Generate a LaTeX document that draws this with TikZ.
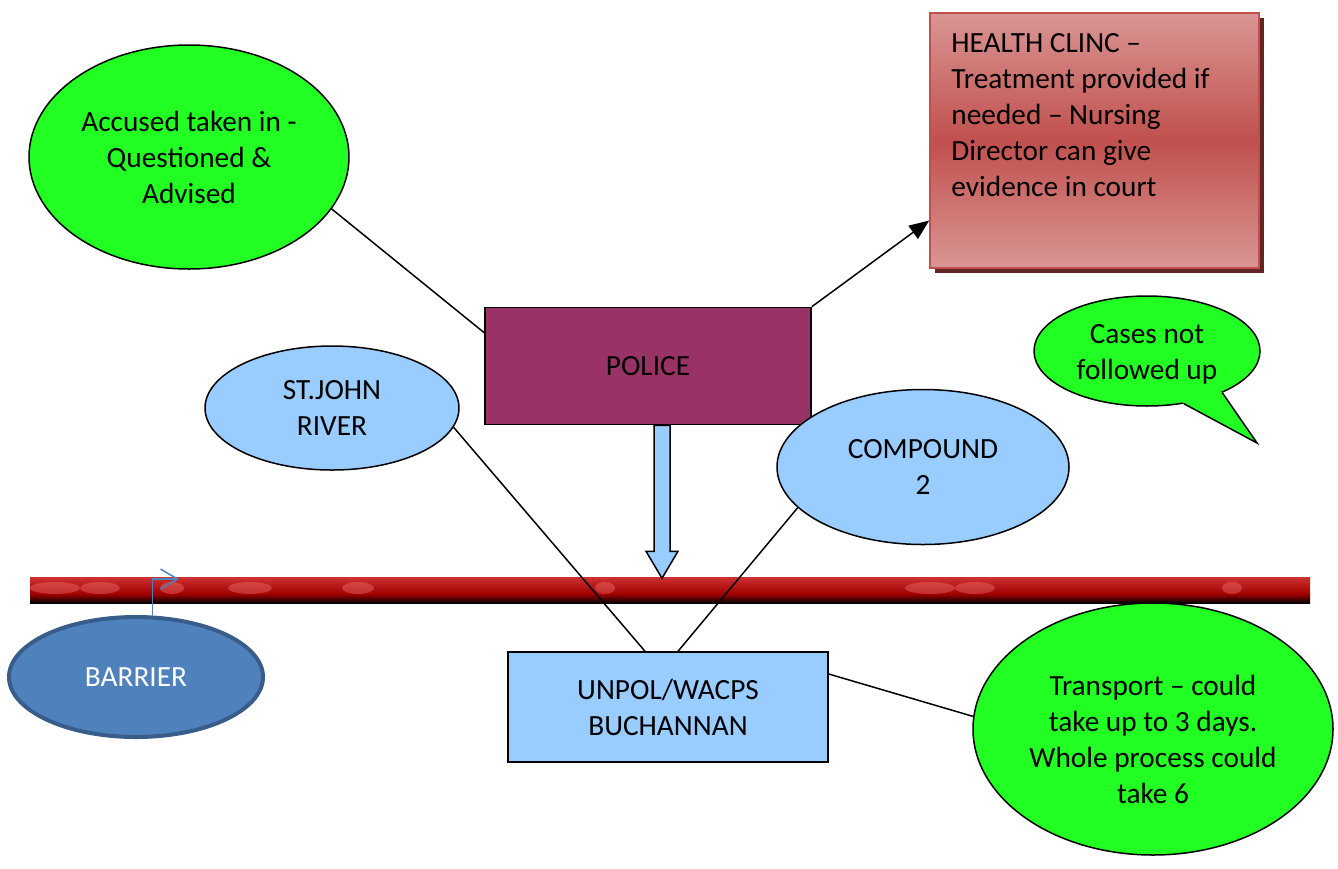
\documentclass[tikz,border=0pt]{standalone}
\usepackage{fontspec}
\setmainfont{Carlito}
\usetikzlibrary{shapes.geometric,arrows.meta,calc}
\definecolor{lgreen}{RGB}{34,255,34}
\definecolor{lblue}{RGB}{153,204,255}
\definecolor{plum}{RGB}{153,51,102}
\definecolor{hclight}{RGB}{217,150,148}
\definecolor{hcmid}{RGB}{192,80,77}
\definecolor{hcshadow}{RGB}{99,37,35}
\definecolor{barfill}{RGB}{79,129,189}
\definecolor{barline}{RGB}{56,93,138}
\definecolor{redtop}{RGB}{205,50,50}
\definecolor{reddark}{RGB}{160,0,0}
\definecolor{redspot}{RGB}{255,130,130}
\begin{document}
\begin{tikzpicture}[x=1pt,y=-1pt,
  txt/.style={font=\fontsize{29.3}{36}\selectfont, align=center},
  oval/.style={ellipse, draw=black, line width=1.5pt, inner sep=0pt, txt},
  greenoval/.style={oval, fill=lgreen},
  blueoval/.style={oval, fill=lblue},
  boxnode/.style={rectangle, draw=black, line width=1.5pt, inner sep=0pt, txt},
  conn/.style={draw=black, line width=1.5pt},
]
\useasboundingbox (0,0) rectangle (1338,868);

% red barrier bar
\shade[top color=redtop, bottom color=reddark] (30,577) rectangle (1310,594);
\shade[top color=reddark, bottom color=black] (30,594) rectangle (1310,603);
\begin{scope}
  \clip (30,577) rectangle (1310,603);
  \foreach \xa/\w in {55/25, 100/20, 172/12, 250/22, 358/16, 605/10, 930/25, 975/20, 1232/10}{
    \fill[redspot, opacity=0.35] (\xa,588) ellipse ({\w} and 6);
  }
\end{scope}

% nodes
\node[greenoval, minimum width=320pt, minimum height=224pt] (acc) at (189,157)
  {Accused taken in -\\Questioned \&\\Advised};
\node[boxnode, fill=plum, minimum width=326pt, minimum height=117pt] (police) at (648,366) {POLICE};

% health clinic
\fill[hcshadow] (935,18) rectangle (1264,273);
\node[rectangle, draw=hcmid, line width=1.5pt, minimum width=329pt, minimum height=255pt,
  inner sep=0pt, top color=hclight, bottom color=hclight, middle color=hcmid] (hc) at (1094.5,140.5) {};
\node[txt, align=left, anchor=north west, inner sep=0pt] (hct) at ([xshift=22pt,yshift=-21pt]hc.north west)
  {HEALTH CLINC –\\Treatment provided if\\needed – Nursing\\Director can give\\evidence in court};

% callout
\node[greenoval, minimum width=226pt, minimum height=110pt] (co) at (1147,351) {};
\coordinate (cotip) at (1257,443);
\fill[lgreen] ($(co.center)!0.95!(co.-55)$) -- (co.-55) -- (cotip) -- (co.-29) -- ($(co.center)!0.95!(co.-29)$) -- cycle;
\draw[conn] (co.-55) -- (cotip) -- (co.-29);
\node[txt, inner sep=0pt] (cot) at ([yshift=-3pt]co.center) {Cases not\\followed up};

\node[blueoval, minimum width=254pt, minimum height=124pt] (sj) at (332,408) {ST.JOHN\\RIVER};
\node[blueoval, minimum width=292pt, minimum height=155pt] (cp) at (923,467) {COMPOUND\\2};

\node[oval, fill=barfill, draw=barline, line width=4pt, text=white, minimum width=254pt, minimum height=120pt] (barr) at (136,677) {BARRIER};

\node[boxnode, fill=lblue, minimum width=320pt, minimum height=110pt] (un) at (668,707) {UNPOL/WACPS\\BUCHANNAN};

\node[greenoval, minimum width=360pt, minimum height=252pt] (tr) at (1153,729) {};
\node[txt, inner sep=0pt] (trt) at ([yshift=-10pt]tr.center)
  {Transport – could\\take up to 3 days.\\Whole process could\\take 6};

% block arrow from police down to the bar
\coordinate (ba) at ([xshift=14pt]police.south);
\draw[fill=lblue, draw=black, line width=1.5pt]
  (ba) ++(-8,0) -- ++(0,126) -- ++(-8,0) -- ++(16,27) -- ++(16,-27) -- ++(-8,0) -- ++(0,-126) -- cycle;

% connectors
\draw[conn] (acc.-20) -- ([yshift=-26pt]police.north west);
\draw[conn, -{Triangle[length=20pt,width=16pt]}] (police.north east) -- ([yshift=-80pt]hc.west);
\draw[conn] (sj.-9) -- ([xshift=-23pt]un.north);
\draw[conn] (cp.-162) -- ([xshift=10pt]un.north);
\draw[conn] ([yshift=33pt]un.east) -- (tr.176);

% barrier arrow
\coordinate (bartip) at (179,579);
\draw[barfill, line width=1.5pt, -{Straight Barb[length=17pt,width=20pt]}] (barr.75) |- (bartip);
\end{tikzpicture}
\end{document}
